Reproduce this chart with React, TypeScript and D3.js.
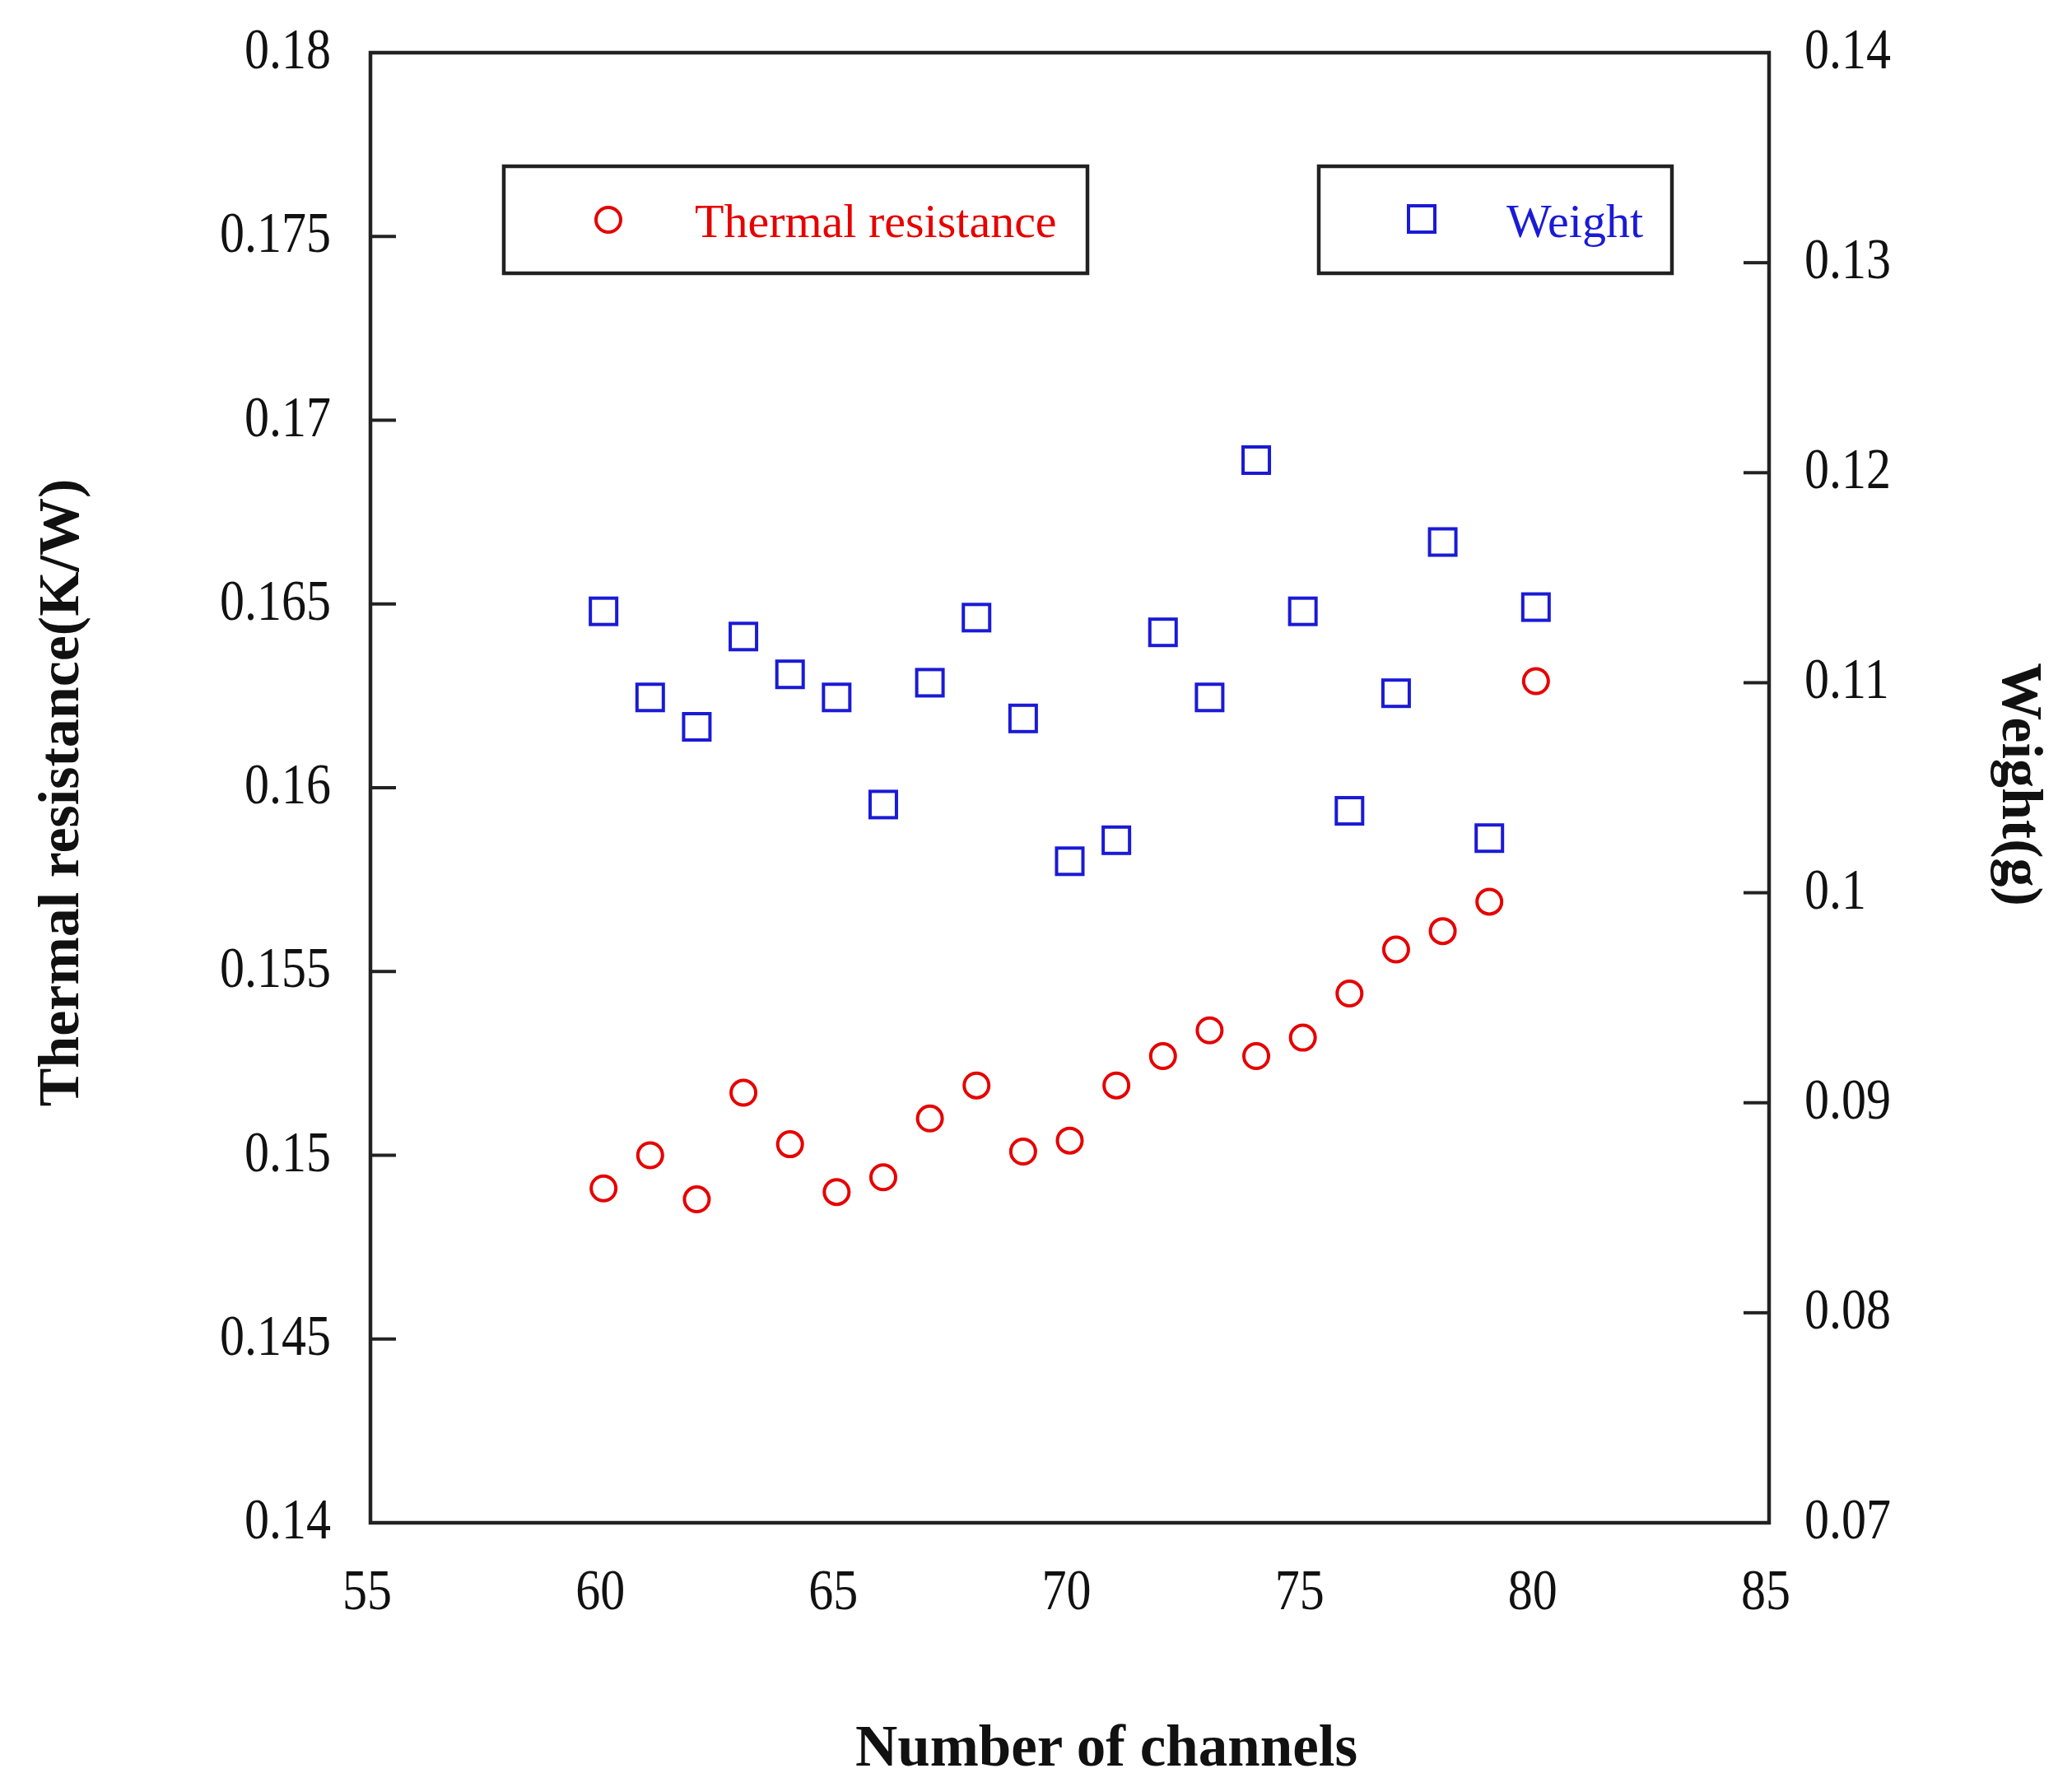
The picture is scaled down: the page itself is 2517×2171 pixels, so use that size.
import React from "react";
import * as d3 from "d3";

const channels = [60, 61, 62, 63, 64, 65, 66, 67, 68, 69, 70, 71, 72, 73, 74, 75, 76, 77, 78, 79, 80];
const thermalResistance = [0.1491, 0.15, 0.1488, 0.1517, 0.1503, 0.149, 0.1494, 0.151, 0.1519, 0.1501, 0.1504, 0.1519, 0.1527, 0.1534, 0.1527, 0.1532, 0.1544, 0.1556, 0.1561, 0.1569, 0.1629];
const weight = [0.1134, 0.1093, 0.1079, 0.1122, 0.1104, 0.1093, 0.1042, 0.11, 0.1131, 0.1083, 0.1015, 0.1025, 0.1124, 0.1093, 0.1206, 0.1134, 0.1039, 0.1095, 0.1167, 0.1026, 0.1136];
const xTicks = [55, 60, 65, 70, 75, 80, 85];
const leftTicks = [0.14, 0.145, 0.15, 0.155, 0.16, 0.165, 0.17, 0.175, 0.18];
const rightTicks = [0.07, 0.08, 0.09, 0.1, 0.11, 0.12, 0.13, 0.14];

const W = 2517;
const H = 2171;
const L = 450, R = 2149, T = 64, B = 1850;
const RED = "#e60000";
const BLUE = "#1a1ad6";
const FONT = "'Liberation Serif', 'Times New Roman', serif";

export default function App() {
  const x = d3.scaleLinear().domain([55, 85]).range([L, R]);
  const yL = d3.scaleLinear().domain([0.14, 0.18]).range([B, T]);
  const yR = d3.scaleLinear().domain([0.07, 0.14]).range([B, T]);
  const fmt = (v: number) => String(+v.toFixed(3));
  const tickFs = 60;
  const sy = 1.17;
  const sq = 32;

  return (
    <svg width={W} height={H} style={{ position: "absolute", left: 0, top: 0, background: "#fff" }} fontFamily={FONT}>
      <rect x={0} y={0} width={W} height={H} fill="#fff" />
      {/* frame */}
      <rect x={L} y={T} width={R - L} height={B - T} fill="none" stroke="#222" strokeWidth={4.5} />
      {/* left ticks */}
      {leftTicks.map((t) => (
        <g key={"l" + t}>
          {t > 0.14 && t < 0.18 && <line x1={L} x2={L + 31} y1={yL(t)} y2={yL(t)} stroke="#222" strokeWidth={4} />}
          <g transform={`translate(${L - 48},${yL(t) + 19}) scale(1,${sy})`}>
            <text textAnchor="end" fontSize={tickFs} fill="#111">{fmt(t)}</text>
          </g>
        </g>
      ))}
      {/* right ticks */}
      {rightTicks.map((t) => (
        <g key={"r" + t}>
          {t > 0.07 && t < 0.14 && <line x1={R} x2={R - 31} y1={yR(t)} y2={yR(t)} stroke="#222" strokeWidth={4} />}
          <g transform={`translate(${R + 43},${yR(t) + 19}) scale(1,${sy})`}>
            <text textAnchor="start" fontSize={tickFs} fill="#111">{fmt(t)}</text>
          </g>
        </g>
      ))}
      {/* x tick labels */}
      {xTicks.map((t) => (
        <g key={"x" + t} transform={`translate(${x(t) - 4},${B + 105}) scale(1,${sy})`}>
          <text textAnchor="middle" fontSize={tickFs} fill="#111">{t}</text>
        </g>
      ))}
      {/* axis titles */}
      <text x={1344} y={2145} textAnchor="middle" fontSize={71} fontWeight="bold" fill="#111">Number of channels</text>
      <text transform={`translate(95,963) rotate(-90)`} textAnchor="middle" fontSize={70} fontWeight="bold" fill="#111">Thermal resistance(K/W)</text>
      <text transform={`translate(2433,953) rotate(90)`} textAnchor="middle" fontSize={70} fontWeight="bold" fill="#111">Weight(g)</text>
      {/* data */}
      {channels.map((c, i) => (
        <circle key={"c" + c} cx={x(c)} cy={yL(thermalResistance[i])} r={15} fill="none" stroke={RED} strokeWidth={4} />
      ))}
      {channels.map((c, i) => (
        <rect key={"s" + c} x={x(c) - sq / 2} y={yR(weight[i]) - sq / 2} width={sq} height={sq} fill="none" stroke={BLUE} strokeWidth={4} />
      ))}
      {/* legends */}
      <rect x={612} y={202} width={709} height={130} fill="#fff" stroke="#222" strokeWidth={4.5} />
      <circle cx={739} cy={267} r={15} fill="none" stroke={RED} strokeWidth={4} />
      <text x={844} y={288} fontSize={58} fill={RED}>Thermal resistance</text>
      <rect x={1602} y={202} width={429} height={130} fill="#fff" stroke="#222" strokeWidth={4.5} />
      <rect x={1727 - sq / 2} y={266 - sq / 2} width={sq} height={sq} fill="none" stroke={BLUE} strokeWidth={4} />
      <text x={1830} y={288} fontSize={58} fill={BLUE}>Weight</text>
    </svg>
  );
}
